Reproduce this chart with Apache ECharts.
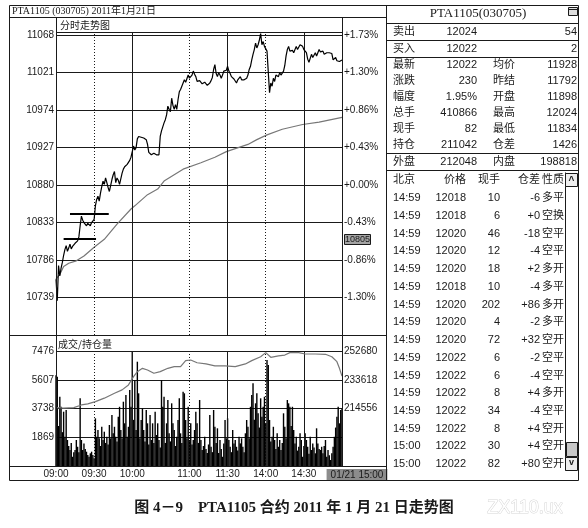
<!DOCTYPE html>
<html>
<head>
<meta charset="utf-8">
<script src="https://cdn.jsdelivr.net/npm/echarts@6/dist/echarts.min.js"></script>
<style>html,body{margin:0;padding:0;background:#fff}#main{width:588px;height:528px}</style>
</head>
<body>
<div id="main"></div>
<script>
// ---------- DATA ----------
// one value per trading minute: 09:00-10:15, 10:31-11:30, 13:31-15:00  (226 points)
const PRICE = [
10762,10735,10779,10766,10776,10783,10792,10799,10804,10797,
10801,10806,10800,10803,10802,10807,10805,10810,10815,10829,
10841,10836,10833,10835,10829,10832,10831,10829,10833,10831,
10837,10854,10862,10866,10860,10870,10878,10885,10881,10889,
10883,10877,10872,10870,10887,10893,10897,10883,10889,10886,
10881,10883,10895,10900,10903,10904,10906,10908,10911,10915,
10917,10929,10924,10927,10938,10941,10942,10940,10941,10939,
10938,10937,10931,10921,10919,10918,10917,10920,10920,10918,
10919,10918,10941,10948,10950,10958,10962,10968,10979,10975,
10972,10989,10980,10975,10981,10975,10987,10997,11000,11004,
11008,11012,11009,11008,11018,11014,11016,11018,11023,11019,
11016,11010,11008,11011,11010,11007,11006,11009,11008,11005,
11006,11008,11011,11015,11025,11031,11020,11016,11021,11018,
11014,11018,11023,11021,11024,11029,11023,11020,11016,11015,
11013,11012,11008,11012,11014,11016,11012,11014,11012,11010,
11014,11018,11025,11029,11037,11044,11050,11058,11052,11056,
11062,11070,11056,11060,11054,11052,11048,11046,10996,11008,
11004,11014,11010,11018,11017,11016,11021,11018,11020,11023,
11030,11042,11050,11054,11048,11050,11049,11046,11048,11054,
11050,11052,11056,11055,11054,11050,11048,11046,11038,11034,
11033,11044,11040,11042,11046,11042,11046,11050,11047,11046,
11048,11044,11042,11046,11048,11046,11046,11045,11037,11038,
11040,11036,11035,11035,11036,11037];

// average price line: [minute index, price]
const AVG_PTS = [[0,10762],[3,10768],[6,10778],[10,10782],[16,10785],[22,10791],[30,10802],[38,10812],
[48,10831],[59,10850],[62,10854],[72,10868],[80,10875],[85,10885],[100,10900],[114,10908],[125,10915],
[134,10922],[151,10931],[158,10937],[166,10943],[178,10950],[194,10956],[207,10959],[225,10965]];

const VOLUME = [
5900,5800,2600,4500,3850,2200,3530,1900,3640,1690,
1300,1040,1500,600,900,1040,1690,1250,900,4400,
1690,1040,1470,1100,930,715,600,825,930,715,
500,3100,1900,2340,1800,1300,2550,1690,2230,1500,
1900,1400,2665,1800,3315,2125,2550,1900,1600,3200,
3850,2340,1800,4180,2775,4615,1900,2550,4940,3850,
7430,3000,5590,2340,6780,4725,1800,2990,3750,2340,
1600,3640,2775,1400,3315,1690,2775,1500,3530,2015,
2775,1690,1200,5590,3850,4500,1500,2775,4290,2125,
1600,4075,2775,2340,1300,1900,2990,4400,2125,1500,
4830,4725,2990,1800,3850,1690,2775,1400,1690,2340,
3530,2775,1500,4290,1690,1040,1300,1900,1100,845,
1400,3315,1250,900,3640,2550,1500,2450,845,1690,
1100,600,1470,2990,1800,3100,1690,1250,900,2340,
1470,1690,1250,1000,1900,1470,1800,1250,900,2125,
2990,2550,1800,3850,4615,5375,3000,4075,4725,3425,
2500,4400,3200,3850,4500,2800,6890,6565,2990,1600,
1900,2550,1690,1100,2125,1250,1690,1040,1500,3425,
2550,1800,4290,4075,3850,2600,3850,2340,1470,1900,
1000,1250,2125,1690,600,1300,2125,1690,1250,800,
1900,1040,1470,1200,825,2450,1470,1100,1040,1250,
825,1300,1690,600,1040,700,390,825,1250,1900,
2500,3200,3850,2775,3640,3700];

// open interest: [minute index, contracts]
const OI_PTS = [[0,215200],[1,215800],[6,214750],[14,215150],[20,216900],[25,217600],[31,219100],[38,221400],
[46,224700],[52,226900],[57,230200],[61,235700],[64,239000],[68,241200],[72,240100],[77,237900],[82,239000],
[88,241200],[93,242300],[98,242300],[102,246300],[106,246700],[111,244900],[118,244100],[125,242800],
[133,242800],[141,242300],[149,244100],[154,246300],[161,248900],[165,251600],[169,248500],[175,249400],
[180,250000],[184,251600],[191,251600],[196,250700],[204,250700],[212,250500],[217,248900],[221,245600],
[223,241200],[225,236000]];

// axes / ticks
const PRICE_TICKS = [11068,11021,10974,10927,10880,10833,10786,10739];
const PCT_LABELS = ['+1.73%','+1.30%','+0.86%','+0.43%','+0.00%','-0.43%','-0.86%','-1.30%'];
const VOL_TICKS = [7476,5607,3738,1869];
const OI_TICKS = [252680,233618,214556];
const TIME_TICKS = [0,30,60,105,135,165,195,225];
const TIME_LABELS = ['09:00','09:30','10:00','11:00','11:30','14:00','14:30','01/21 15:00'];
const SOLID_V = [60,135,195];
const DOTTED_V = [30,105,165];
// drawn price-level segments: [from minute, to minute, price]
const LEVEL_LINES = [[11,41.5,10844],[6,31.5,10813]];
const LAST_TAG = '10805';

// quote panel
const TITLE_LEFT = 'PTA1105 (030705) 2011年1月21日';
const TITLE_RIGHT = 'PTA1105(030705)';
const QUOTE_TOP = [['卖出','12024','54'],['买入','12022','2']];
const QUOTE_MID = [['最新','12022','均价','11928'],['涨跌','230','昨结','11792'],['幅度','1.95%','开盘','11898'],
['总手','410866','最高','12024'],['现手','82','最低','11834'],['持仓','211042','仓差','1426']];
const QUOTE_BOT = ['外盘','212048','内盘','198818'];
const TICK_HEAD = ['北京','价格','现手','仓差','性质'];
const TICKS = [
['14:59','12018','10','-6','多平'],['14:59','12018','6','+0','空换'],['14:59','12020','46','-18','空平'],
['14:59','12020','12','-4','空平'],['14:59','12020','18','+2','多开'],['14:59','12018','10','-4','多平'],
['14:59','12020','202','+86','多开'],['14:59','12020','4','-2','多平'],['14:59','12020','72','+32','空开'],
['14:59','12022','6','-2','空平'],['14:59','12022','6','-4','空平'],['14:59','12022','8','+4','多开'],
['14:59','12022','34','-4','空平'],['14:59','12022','8','+4','空开'],['15:00','12022','30','+4','空开'],
['15:00','12022','82','+80','空开']];
const CAPTION = '图 4－9　PTA1105 合约 2011 年 1 月 21 日走势图';
const PANEL_PRICE = '分时走势图';
const PANEL_VOL = '成交/持仓量';

// ---------- RENDER ----------
const INK = '#1a1a1a';
const SANS = '"Liberation Sans", "Noto Sans CJK SC", sans-serif';
const SERIF = '"Liberation Serif", "Noto Sans CJK SC", serif';
const CJK = '"Noto Sans CJK SC", sans-serif';
const G = [];
function L(x1,y1,x2,y2,opt){G.push({type:'line',silent:true,z:100,shape:{x1,y1,x2,y2},style:Object.assign({stroke:INK,lineWidth:1},opt||{})});}
function R(x,y,w,h,opt){G.push({type:'rect',silent:true,z:100,shape:{x,y,width:w,height:h},style:Object.assign({stroke:INK,fill:'none',lineWidth:1},opt||{})});}
function T(x,y,s,font,align,opt){G.push({type:'text',silent:true,z:101,x,y,style:Object.assign({text:s,font,fill:INK,align:align||'left',verticalAlign:'middle'},opt||{})});}

// frames
R(9.5,5.5,569,475);
L(9.5,17.5,386.5,17.5);
L(386.5,5.5,386.5,480.5);
L(56.5,17.5,56.5,466.5);
L(342.5,17.5,342.5,466.5);
L(56.5,32.5,342.5,32.5);
L(9.5,335.5,386.5,335.5);
L(9.5,466.5,386.5,466.5);
T(12,11.5,TITLE_LEFT,'10px '+SERIF);
T(60,25,PANEL_PRICE,'10px '+CJK);
T(58,344,PANEL_VOL,'10px '+CJK);
// last price tag
R(344.5,234.5,26,10,{fill:'#a3a3a3'});
T(357.5,239.8,LAST_TAG,'9px '+SANS,'center');

// right panel
T(478,14,TITLE_RIGHT,'13px '+SERIF,'center');
R(568.5,7.5,9,8,{fill:'#ddd'}); L(568.5,9.5,577.5,9.5);
[23.5,40.5,57.5,153.5,170.5].forEach(y=>L(386.5,y,578.5,y));
const F = '11px '+SANS;
QUOTE_TOP.forEach((r,i)=>{const y=31.5+i*17;T(393,y,r[0],F);T(477,y,r[1],F,'right');T(577,y,r[2],F,'right');});
QUOTE_MID.forEach((r,i)=>{const y=65+i*16;T(393,y,r[0],F);T(477,y,r[1],F,'right');T(493,y,r[2],F);T(577,y,r[3],F,'right');});
T(393,161.8,QUOTE_BOT[0],F);T(477,161.8,QUOTE_BOT[1],F,'right');T(493,161.8,QUOTE_BOT[2],F);T(577,161.8,QUOTE_BOT[3],F,'right');
T(393,180,TICK_HEAD[0],F);T(466,180,TICK_HEAD[1],F,'right');T(500,180,TICK_HEAD[2],F,'right');T(540,180,TICK_HEAD[3],F,'right');T(542,180,TICK_HEAD[4],F);
TICKS.forEach((r,i)=>{const y=198.3+i*17.72;T(393,y,r[0],F);T(466,y,r[1],F,'right');T(500,y,r[2],F,'right');T(540,y,r[3],F,'right');T(542,y,r[4],F);});
// scrollbar
L(565.5,172.5,565.5,470.5);
R(565.5,173.5,12,13,{fill:'#eee'}); T(571.5,181,'^','bold 10px '+SANS,'center');
R(566.5,442.5,11,14,{fill:'#c8c8c8'});
R(565.5,457.5,12,13,{fill:'#eee'}); T(571.5,463,'v','bold 9px '+SANS,'center');
// caption
T(294,508,CAPTION,'bold 15px '+SERIF,'center');
T(525,508,'ZX110.ux','18px '+SANS,'center',{fill:'#fff',stroke:'#d6d6d6',lineWidth:1});

function vLines(){
  return SOLID_V.map(v=>({xAxis:v,lineStyle:{type:'solid',color:INK,width:1}}))
    .concat(DOTTED_V.map(v=>({xAxis:v,lineStyle:{type:[1,2],color:INK,width:1}})));
}
function pick(list){return function(v){return list.indexOf(Math.round(v))<0?'':String(Math.round(v));};}
const axisFont = {fontFamily:SANS,fontSize:10,color:INK};
const option = {
  animation:false,
  backgroundColor:'#fff',
  grid:[{left:56,top:32,width:286,height:303},{left:56,top:351,width:286,height:115}],
  xAxis:[
    {gridIndex:0,type:'value',min:0,max:225,show:false},
    {gridIndex:1,type:'value',min:0,max:225,interval:15,
     axisLine:{show:false},axisTick:{show:false},splitLine:{show:false},
     axisLabel:Object.assign({margin:3,showMinLabel:true,showMaxLabel:true,
       formatter:function(v){const k=TIME_TICKS.indexOf(Math.round(v));if(k<0)return '';
         return k===TIME_TICKS.length-1?'{sp|}{hl|'+TIME_LABELS[k]+'}':TIME_LABELS[k];},
       rich:{sp:{width:30},hl:{backgroundColor:'#8c8c8c',padding:[1,4,0,4],fontFamily:SANS,fontSize:10,color:INK}}},axisFont)}
  ],
  yAxis:[
    {gridIndex:0,type:'value',min:10692,max:11072,interval:47,position:'left',
     axisLine:{show:false},axisTick:{show:false},splitLine:{lineStyle:{color:INK,width:1}},
     axisLabel:Object.assign({margin:2,formatter:pick(PRICE_TICKS)},axisFont)},
    {gridIndex:0,type:'value',min:10692,max:11072,interval:47,position:'right',
     axisLine:{show:false},axisTick:{show:false},splitLine:{show:false},
     axisLabel:Object.assign({margin:2,formatter:function(v){const k=PRICE_TICKS.indexOf(Math.round(v));return k<0?'':PCT_LABELS[k];}},axisFont)},
    {gridIndex:1,type:'value',min:0,max:7476,interval:1869,position:'left',
     axisLine:{show:false},axisTick:{show:false},splitLine:{lineStyle:{color:INK,width:1}},
     axisLabel:Object.assign({margin:2,formatter:pick(VOL_TICKS)},axisFont)},
    {gridIndex:1,type:'value',min:176432,max:252680,interval:19062,position:'right',
     axisLine:{show:false},axisTick:{show:false},splitLine:{show:false},
     axisLabel:Object.assign({margin:2,formatter:pick(OI_TICKS)},axisFont)}
  ],
  series:[
    {type:'line',name:'price',xAxisIndex:0,yAxisIndex:0,data:PRICE.map((v,i)=>[i,v]),symbol:'none',
     lineStyle:{color:'#000',width:1.2},z:5,
     markLine:{silent:true,symbol:['none','none'],label:{show:false},animation:false,
       data:vLines().concat(LEVEL_LINES.map(s=>[{coord:[s[0],s[2]],lineStyle:{color:'#000',width:1.8,type:'solid'}},{coord:[s[1],s[2]]}]))}},
    {type:'line',name:'avg',xAxisIndex:0,yAxisIndex:0,data:AVG_PTS,symbol:'none',lineStyle:{color:'#777',width:1.2},z:4},
    {type:'bar',name:'vol',xAxisIndex:1,yAxisIndex:2,data:VOLUME.map((v,i)=>[i,v]),barWidth:1.4,itemStyle:{color:'#000'},
     markLine:{silent:true,symbol:['none','none'],label:{show:false},animation:false,data:vLines()}},
    {type:'line',name:'oi',xAxisIndex:1,yAxisIndex:3,data:OI_PTS,symbol:'none',lineStyle:{color:'#777',width:1.2},z:6}
  ],
  graphic:G
};
echarts.init(document.getElementById('main')).setOption(option);
</script>
</body>
</html>
